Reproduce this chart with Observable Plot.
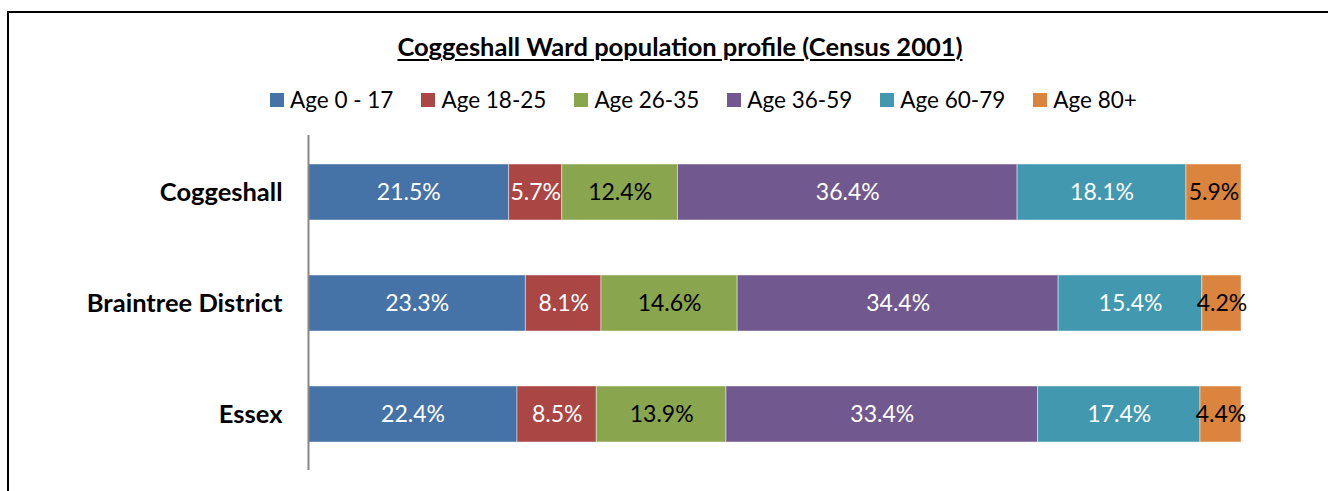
<!DOCTYPE html>
<html>
<head>
<meta charset="utf-8">
<script src="https://cdn.jsdelivr.net/npm/d3@7"></script>
<script src="https://cdn.jsdelivr.net/npm/@observablehq/plot@0.6"></script>
<style>
  html, body { margin: 0; padding: 0; background: #fff; }
  #wrap { position: relative; width: 1328px; height: 491px; overflow: hidden; font-family: Lato, "Open Sans", sans-serif; }
  #frame { position: absolute; left: 7px; top: 11px; width: 1400px; height: 600px; border: 2px solid #000; box-sizing: border-box; }
  #title { position: absolute; left: 16px; width: 1328px; top: 31px; line-height: 30px; text-align: center; font-weight: bold; font-size: 25.5px; text-decoration: underline; text-decoration-thickness: 2px; text-underline-offset: 3px; color: #000; }
  #legend { position: absolute; left: 256px; top: 86px; line-height: 27px; display: flex; white-space: nowrap; font-size: 22.5px; color: #000; }
  .item { display: flex; align-items: center; margin: 0 14px; }
  .sw { width: 14px; height: 14px; margin-right: 6px; }
  #chart { position: absolute; left: 0; top: 0; }
</style>
</head>
<body>
<div id="wrap">
  <div id="frame"></div>
  <div id="title"></div>
  <div id="legend"></div>
  <div id="chart"></div>
</div>
<script>
const title = "Coggeshall Ward population profile (Census 2001)";
const regions = ["Coggeshall", "Braintree District", "Essex"];
const ageGroups = ["Age 0 - 17", "Age 18-25", "Age 26-35", "Age 36-59", "Age 60-79", "Age 80+"];
const colors = ["#4572A7", "#AA4643", "#89A54E", "#71588F", "#4198AF", "#DB843D"];
const labelColors = ["white", "white", "black", "white", "white", "black"];
const coggeshall = [21.5, 5.7, 12.4, 36.4, 18.1, 5.9];
const braintree = [23.3, 8.1, 14.6, 34.4, 15.4, 4.2];
const essex = [22.4, 8.5, 13.9, 33.4, 17.4, 4.4];

const seriesByRegion = [coggeshall, braintree, essex];
const data = [];
regions.forEach((r, i) => {
  ageGroups.forEach((g, j) => {
    data.push({region: r, group: g, value: seriesByRegion[i][j], labelColor: labelColors[j]});
  });
});

document.getElementById("title").textContent = title;
const legend = document.getElementById("legend");
ageGroups.forEach((g, j) => {
  const it = document.createElement("div");
  it.className = "item";
  const sw = document.createElement("div");
  sw.className = "sw";
  sw.style.background = colors[j];
  const tx = document.createElement("span");
  tx.textContent = g;
  it.appendChild(sw);
  it.appendChild(tx);
  legend.appendChild(it);
});

const label = c => d => d.labelColor === c ? d.value.toFixed(1) + "%" : null;

const plot = Plot.plot({
  width: 1328,
  height: 491,
  marginTop: 135,
  marginBottom: 21,
  marginLeft: 308,
  marginRight: 87,
  style: {fontFamily: "Lato, 'Open Sans', sans-serif", background: "transparent"},
  x: {domain: [0, 100], axis: null},
  y: {domain: regions, paddingInner: 0.5, paddingOuter: 0.25, label: null, tickSize: 0, tickPadding: 26},
  color: {domain: ageGroups, range: colors},
  marks: [
    Plot.barX(data, Plot.stackX({x: "value", y: "region", fill: "group", stroke: "white", strokeOpacity: 0.45, strokeWidth: 1})),
    Plot.text(data, Plot.stackX({x: "value", y: "region", text: label("white"), fill: "white", fontSize: 23})),
    Plot.text(data, Plot.stackX({x: "value", y: "region", text: label("black"), fill: "black", fontSize: 23})),
    Plot.ruleX([0], {stroke: "#868686", strokeWidth: 2}),
    Plot.axisY({tickSize: 0, tickPadding: 26, fontSize: 25.5, fontWeight: "bold", fill: "black", label: null})
  ]
});
document.getElementById("chart").appendChild(plot);
</script>
</body>
</html>
